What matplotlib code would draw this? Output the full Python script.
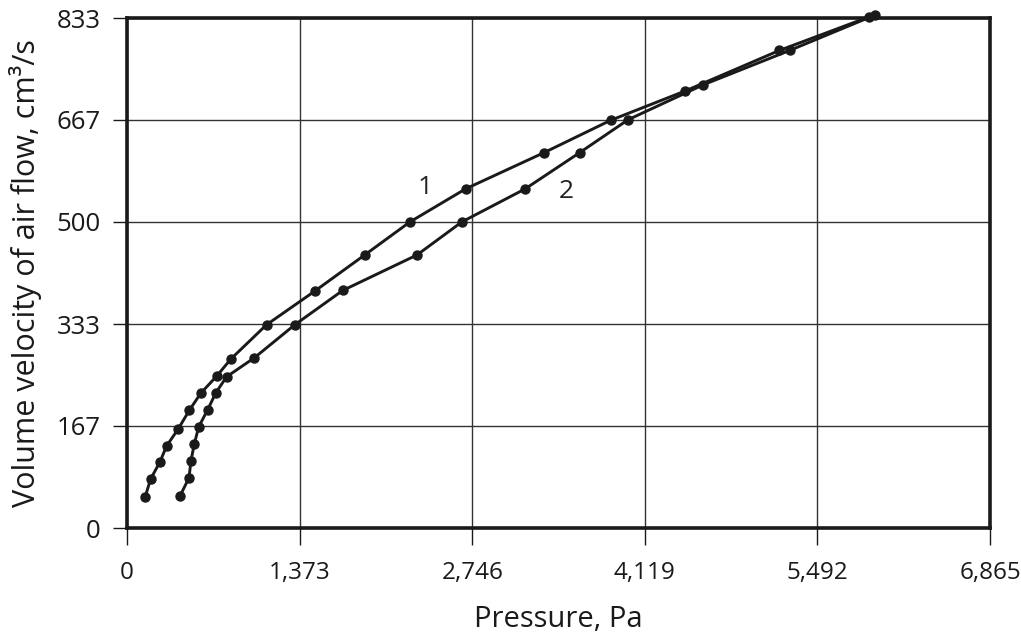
import numpy as np
from matplotlib import pyplot as plt

plt.rcParams['font.family'] = ['Open Sans', 'DejaVu Sans']

# Curve 1 (upper-left branch)
pressure_1 = [143, 188, 262, 315, 408, 495, 586, 713, 826, 1110, 1494, 1891,
              2251, 2694, 3316, 3848, 4442, 5189, 5904]
flow_1 = [50, 80, 108, 134, 162, 192, 220, 248, 276, 332, 387, 446,
          500, 554, 613, 666, 714, 780, 835]

# Curve 2 (lower-right branch)
pressure_2 = [421, 493, 509, 535, 570, 641, 707, 792, 1013, 1335, 1716, 2307,
              2664, 3168, 3600, 3987, 4585, 5271, 5952]
flow_2 = [52, 82, 110, 137, 165, 193, 221, 247, 278, 332, 388, 446,
          500, 554, 613, 667, 724, 780, 838]

x_ticks = [0, 1373, 2746, 4119, 5492, 6865]
x_tick_labels = ["0", "1,373", "2,746", "4,119", "5,492", "6,865"]
y_ticks = [0, 167, 333, 500, 667, 833]
y_tick_labels = ["0", "167", "333", "500", "667", "833"]

fig = plt.figure(figsize=(10.21, 6.37), dpi=100)
ax = fig.add_axes([0.1244, 0.1711, 0.8452, 0.8006])

ax.plot(pressure_1, flow_1, color="#1a1a1a", lw=2.1, marker="o", ms=6.5, clip_on=False, zorder=3)
ax.plot(pressure_2, flow_2, color="#1a1a1a", lw=2.1, marker="o", ms=6.5, clip_on=False, zorder=3)

# curve numbers
ax.text(2368, 557, "1", fontsize=19, ha="center", va="center", color="#222222")
ax.text(3498, 550, "2", fontsize=19, ha="center", va="center", color="#222222")

ax.set_xlim(0, 6865)
ax.set_ylim(0, 833)
ax.set_xticks(x_ticks)
ax.set_xticklabels(x_tick_labels)
ax.set_yticks(y_ticks)
ax.set_yticklabels(y_tick_labels)
ax.grid(True, color="#333333", lw=1.0)
ax.set_axisbelow(True)

for side in ax.spines.values():
    side.set_linewidth(2.6)
    side.set_color("#1a1a1a")

ax.tick_params(axis="x", direction="out", length=12, width=1.0, pad=12, labelsize=17.5, colors="#1a1a1a")
ax.tick_params(axis="y", direction="out", length=10, width=1.0, pad=9, labelsize=18.5, colors="#1a1a1a")

ax.set_xlabel("Pressure, Pa", fontsize=21, labelpad=14, color="#1a1a1a")
ax.set_ylabel("Volume velocity of air flow, cm\u00b3/s", fontsize=22, labelpad=10, color="#1a1a1a")

fig.savefig("out.png", dpi=100)
